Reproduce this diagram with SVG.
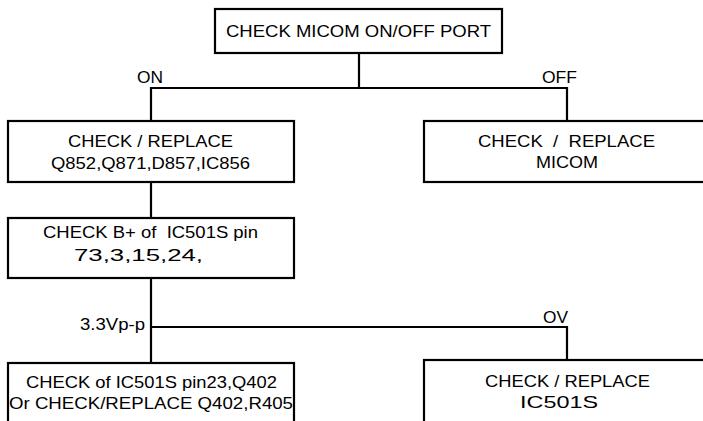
<svg xmlns="http://www.w3.org/2000/svg" width="703" height="421" viewBox="0 0 703 421">
<style>
.box{fill:#fff;stroke:#000;stroke-width:2.2}
.ln{fill:none;stroke:#000;stroke-width:2.2}
text{font-family:"Liberation Sans",Arial,sans-serif;font-size:16.5px;fill:#000}
</style>
<rect width="703" height="421" fill="#fff"/>
<g id="connectors">
<polyline class="ln" points="359,53 359,88"/>
<polyline class="ln" points="151,121 151,88 567,88 567,121"/>
<polyline class="ln" points="151,182 151,218"/>
<polyline class="ln" points="151,278 151,363"/>
<polyline class="ln" points="151,327 567,327 567,360"/>
<text x="137" y="83" textLength="26" lengthAdjust="spacingAndGlyphs">ON</text>
<text x="542" y="83" textLength="35" lengthAdjust="spacingAndGlyphs">OFF</text>
<text x="80" y="330" textLength="65" lengthAdjust="spacingAndGlyphs">3.3Vp-p</text>
<text x="543" y="323" textLength="25" lengthAdjust="spacingAndGlyphs">OV</text>
</g>
<g id="n_top">
<rect class="box" x="215" y="9" width="287" height="44"/>
<text x="226" y="37" textLength="265" lengthAdjust="spacingAndGlyphs">CHECK MICOM ON/OFF PORT</text>
</g>
<g id="n_q852">
<rect class="box" x="8" y="121" width="286" height="61"/>
<text x="68" y="147" textLength="165" lengthAdjust="spacingAndGlyphs">CHECK / REPLACE</text>
<text x="51" y="169" textLength="199" lengthAdjust="spacingAndGlyphs">Q852,Q871,D857,IC856</text>
</g>
<g id="n_micom">
<rect class="box" x="424" y="121" width="300" height="61"/>
<text x="478" y="147" textLength="177" lengthAdjust="spacingAndGlyphs" xml:space="preserve">CHECK  /  REPLACE</text>
<text x="536" y="168" textLength="62" lengthAdjust="spacingAndGlyphs">MICOM</text>
</g>
<g id="n_bplus">
<rect class="box" x="8" y="218" width="286" height="60"/>
<text x="43" y="238" textLength="215" lengthAdjust="spacingAndGlyphs" xml:space="preserve">CHECK B+ of  IC501S pin</text>
<text x="74" y="261" textLength="129" lengthAdjust="spacingAndGlyphs">73,3,15,24,</text>
</g>
<g id="n_pin23">
<rect class="box" x="8" y="363" width="286" height="70"/>
<text x="26" y="388" textLength="251" lengthAdjust="spacingAndGlyphs">CHECK of IC501S pin23,Q402</text>
<text x="9" y="409" textLength="284" lengthAdjust="spacingAndGlyphs">Or CHECK/REPLACE Q402,R405</text>
</g>
<g id="n_ic501s">
<rect class="box" x="424" y="360" width="300" height="70"/>
<text x="485" y="387" textLength="165" lengthAdjust="spacingAndGlyphs">CHECK / REPLACE</text>
<text x="520" y="408" textLength="78" lengthAdjust="spacingAndGlyphs">IC501S</text>
</g>
</svg>
